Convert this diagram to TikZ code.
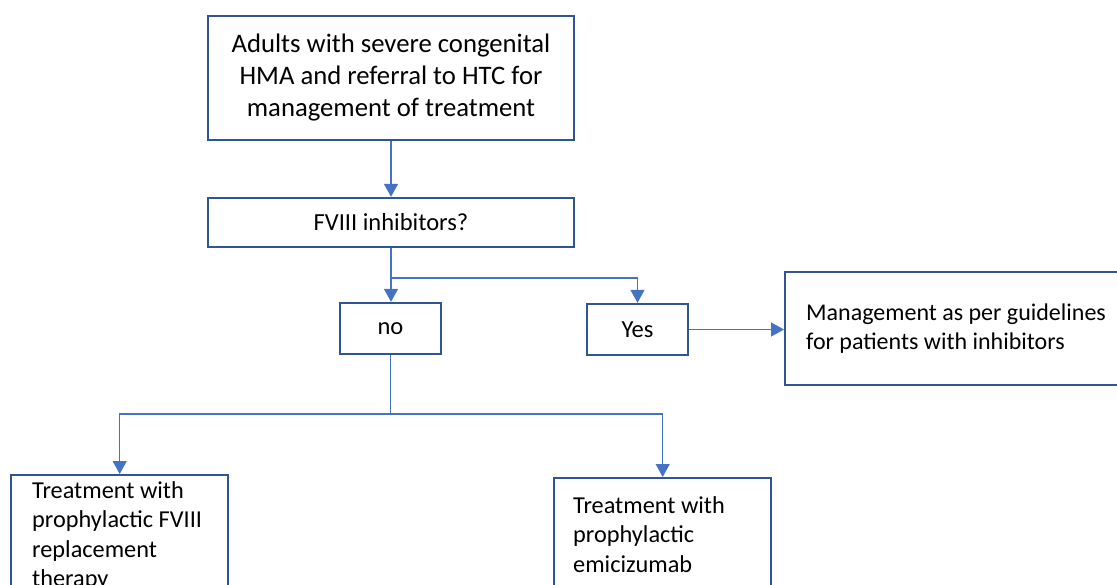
\documentclass[tikz,border=0pt]{standalone}
\usepackage{fontspec}
\setmainfont{Carlito}
\usetikzlibrary{arrows.meta,positioning}

\definecolor{boxblue}{RGB}{47,85,151}
\definecolor{linkblue}{RGB}{68,114,196}

\begin{document}
\begin{tikzpicture}[x=1pt, y=-1pt,
    box/.style={draw=boxblue, line width=2.4pt, inner sep=0pt,
                font=\fontsize{24.5}{30}\selectfont},
    boxtext/.style={anchor=north west, inner sep=0pt, align=flush left,
                font=\fontsize{24.3}{29.5}\selectfont},
    link/.style={draw=linkblue, line width=1.3pt, -{Triangle[width=14pt,length=13pt]}},
    wire/.style={draw=linkblue, line width=1.3pt}]
    \useasboundingbox (0,0) rectangle (1117,584);
    \clip (0,0) rectangle (1117,584);

    % decision chain
    \node[box, minimum width=366, minimum height=124, align=center,
          font=\fontsize{26.7}{32}\selectfont] (adults) at (391,78)
        {Adults with severe congenital\\HMA and referral to HTC for\\management of treatment};
    \node[box, minimum width=366, minimum height=49] (inhib) at (391,222.5) {FVIII inhibitors?};
    \node[box, minimum width=101, minimum height=51] (no)  at (390.5,328.5) {no};
    \node[box, minimum width=101, minimum height=51] (yes) at (637.5,329.5) {Yes};
    \node[box, anchor=west, minimum height=113, text width=320, inner xsep=21, align=flush left,
          font=\fontsize{24}{29.5}\selectfont] (mgmt) at (784,328.5)
        {Management as per guidelines\\for patients with inhibitors};

    % treatment boxes (run off the page)
    \node[box, minimum width=217, minimum height=140, anchor=north west] (fviii) at (10,474) {};
    \node[boxtext] (fviiiText) at ([xshift=22, yshift=-7]fviii.north west)
        {Treatment with\\prophylactic FVIII\\replacement\\therapy};
    \node[box, minimum width=217, minimum height=140, anchor=north west] (emici) at (553,477) {};
    \node[boxtext] (emiciText) at ([xshift=20, yshift=-19]emici.north west)
        {Treatment with\\prophylactic\\emicizumab};

    % connectors
    \coordinate (split) at (391,278);
    \coordinate (fork) at (390.5,414);
    \draw[link] (adults) -- (inhib);
    \draw[link] (inhib.south) -- (inhib.south |- no.north);
    \draw[link] (split) -| (yes.north);
    \draw[link] (yes.east) -- (yes.east -| mgmt.west);
    \draw[wire] (no.south) -- (fork);
    \draw[link] (fork) -| (fviii.north);
    \draw[link] (fork) -| (emici.north);
\end{tikzpicture}
\end{document}
